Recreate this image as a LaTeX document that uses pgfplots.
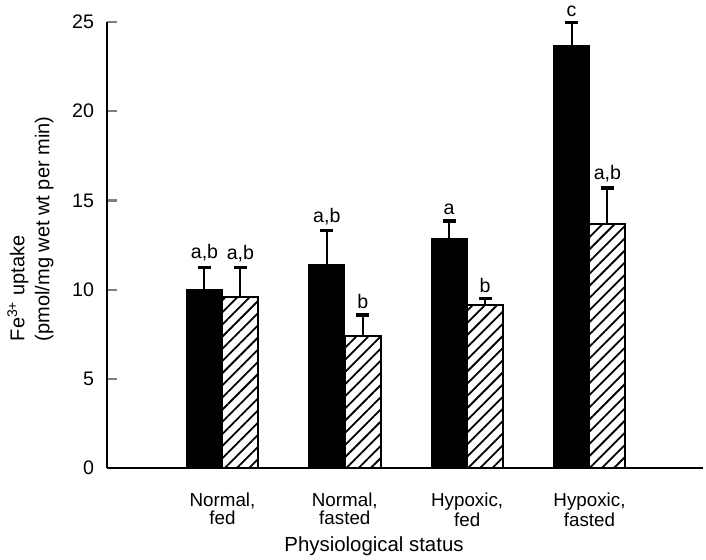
\documentclass[border=0pt]{standalone}
\usepackage{pgfplots}
\pgfplotsset{compat=1.18}
\usepackage{fontspec}
\setmainfont{Liberation Sans}
\usetikzlibrary{patterns.meta}

\pgfplotstableread{
x      y     err
0.853  10.0  1.24
1.853  11.4  1.9
2.853  12.85 1.0
3.853  23.67 1.3
}\blackdata
\pgfplotstableread{
x      y     err
1.147  9.6   1.63
2.147  7.38  1.2
3.147  9.16  0.35
4.147  13.69 2.0
}\hatchdata
\pgfplotstableread{
x      y      lab
0.853  11.24  {a,b}
1.853  13.3   {a,b}
2.853  13.85  a
3.853  24.97  c
1.147  11.23  {a,b}
2.147  8.58   b
3.147  9.51   b
4.147  15.69  {a,b}
}\labdata

\begin{document}
\begin{tikzpicture}
\useasboundingbox (-53.5pt,-45.5pt) rectangle (299.5pt,234pt);
\begin{axis}[
  name=ax,
  anchor=south west, at={(0,0)},
  scale only axis, width=298pt, height=223pt,
  xmin=0.056, xmax=4.928, ymin=0, ymax=25,
  axis x line*=bottom, axis y line*=left,
  axis line style={-, line width=1.3pt},
  clip=false,
  ytick={0,5,10,15,20,25},
  xtick={1,2,3,4},
  xticklabels={{Normal,\\fed},{Normal,\\fasted},{Hypoxic,\\fed},{Hypoxic,\\fasted}},
  xtick style={draw=none},
  ytick style={line width=1.1pt},
  tick align=inside, major tick length=5pt,
  /pgf/number format/assume math mode=true,
  yticklabel style={font=\fontsize{9.8}{11}\selectfont, xshift=-3pt},
  xticklabel style={font=\fontsize{9.4}{7.4}\selectfont, align=center, anchor=north, yshift=-9pt},
  xlabel={Physiological status},
  xlabel style={font=\fontsize{10.2}{12}\selectfont, at={(axis description cs:0.448,0)}, anchor=north, yshift=-31pt},
  ylabel={Fe\textsuperscript{3+} uptake\\(pmol/mg wet wt per min)},
  ylabel style={font=\fontsize{10}{12.5}\selectfont, align=left, at={(axis description cs:-0.078,0.536)}, anchor=south},
]
\addplot[ybar, bar width=0.294, bar shift=0, fill=black, draw=black,
  error bars/.cd, y dir=plus, y explicit, error mark=|,
  error bar style={line width=1pt},
  error mark options={line width=1.7pt, mark size=3.2pt}]
  table[x=x, y=y, y error=err] {\blackdata};
\addplot[ybar, bar width=0.294, bar shift=0, fill=white, draw=black, line width=1pt,
  postaction={pattern={Lines[angle=45,distance=4.3pt,line width=0.9pt]}},
  error bars/.cd, y dir=plus, y explicit, error mark=|,
  error bar style={line width=1pt},
  error mark options={line width=1.7pt, mark size=3.2pt}]
  table[x=x, y=y, y error=err] {\hatchdata};
\addplot[draw=none, mark=none, nodes near coords, point meta=explicit symbolic,
  nodes near coords style={font=\fontsize{9.8}{11}\selectfont, anchor=south, yshift=-0.5pt}]
  table[x=x, y=y, meta=lab] {\labdata};
\end{axis}
\end{tikzpicture}
\end{document}
